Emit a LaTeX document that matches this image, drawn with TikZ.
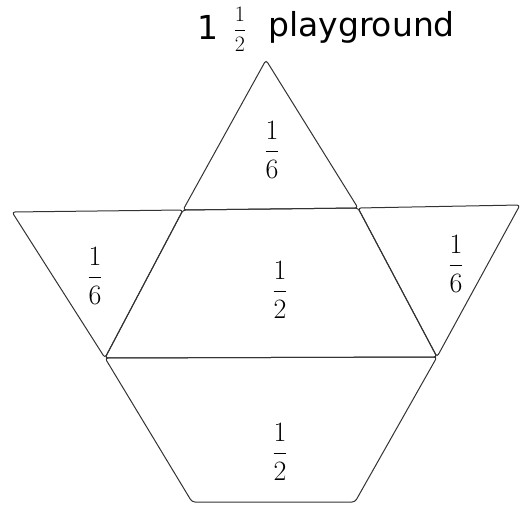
\RequirePackage{fix-cm}
\documentclass[tikz,border=0pt]{standalone}
\usepackage{amsmath}
\usepackage{fontspec}
\setmainfont{DejaVu Sans}
\usetikzlibrary{positioning,calc}

\tikzset{
  block/.style={draw=black!80, line width=1pt, rounded corners=3pt, line join=round},
  frac/.style={font=\fontsize{28}{32}\selectfont, inner sep=0pt},
  titletext/.style={font=\fontsize{33}{36}\selectfont, inner sep=0pt},
}

\begin{document}
\begin{tikzpicture}[x=1pt, y=-1pt]
  \useasboundingbox (0,0) rectangle (522,510);

  % corner points of the blocks
  \coordinate (apex) at (266,60);
  \coordinate (tl) at (183,210);
  \coordinate (tr) at (358,208);
  \coordinate (farl) at (12,212);
  \coordinate (farr) at (520,205);
  \coordinate (ml) at (105,358);
  \coordinate (mr) at (437,357);
  \coordinate (bl) at (192,502);
  \coordinate (br) at (355,502);

  % pattern blocks
  \draw[block] (tl) -- (apex) -- (tr) -- cycle;
  \draw[block] (farl) -- (tl) -- (ml) -- cycle;
  \draw[block] (tl) -- (tr) -- (mr) -- (ml) -- cycle;
  \draw[block] (tr) -- (farr) -- (mr) -- cycle;
  \draw[block] (ml) -- (mr) -- (br) -- (bl) -- cycle;

  % fractions
  \node[frac] (top) at (272,150) {$\dfrac{1}{6}$};
  \node[frac] (left) at (95,276) {$\dfrac{1}{6}$};
  \node[frac] (mid) at (280,290) {$\dfrac{1}{2}$};
  \node[frac] (right) at (456,264) {$\dfrac{1}{6}$};
  \node[frac] (bottom) at (280,452) {$\dfrac{1}{2}$};

  % title
  \node[titletext] (one) at (208,27) {1};
  \node[font=\fontsize{22}{26}\selectfont, inner sep=0pt] (half) at (240,29) {$\dfrac{1}{2}$};
  \node[titletext, anchor=west] (play) at (268,27) {playground};
\end{tikzpicture}
\end{document}
